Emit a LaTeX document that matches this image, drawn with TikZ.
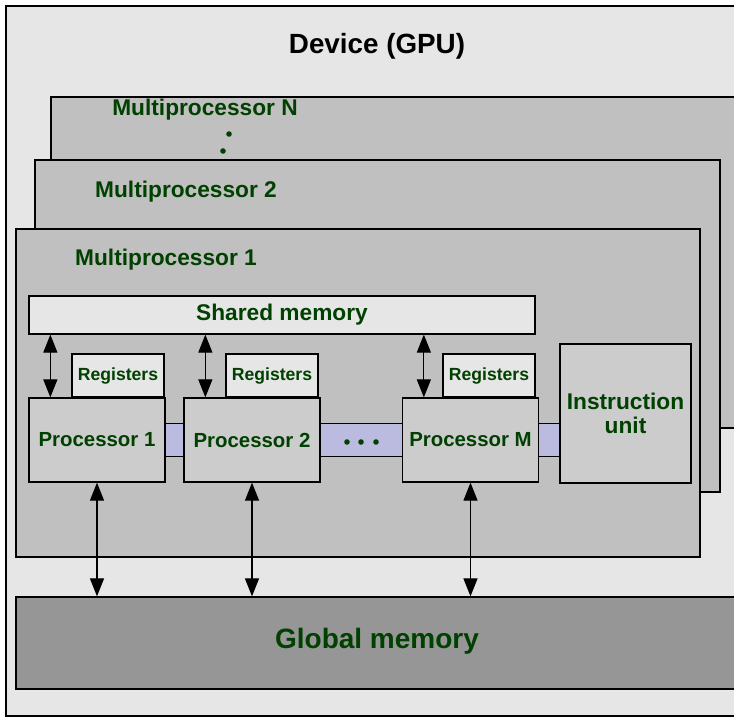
\documentclass[tikz,border=0pt]{standalone}
\usepackage{fontspec}
\setmainfont{Liberation Sans}
\usetikzlibrary{arrows.meta}
\definecolor{grn}{RGB}{0,64,0}
\definecolor{pale}{RGB}{230,230,230}
\definecolor{mpgray}{RGB}{192,192,192}
\definecolor{prgray}{RGB}{204,204,204}
\definecolor{glgray}{RGB}{150,150,150}
\definecolor{lav}{RGB}{187,187,224}

\begin{document}
\begin{tikzpicture}[x=1pt,y=-1pt,line width=1.3pt,
  lbl/.style={text=grn,font=\bfseries\fontsize{22.7}{26}\selectfont,align=center},
  procbox/.style={draw,fill=prgray,minimum width=136pt,minimum height=84pt,inner sep=0pt,
    text=grn,font=\bfseries\fontsize{20.4}{24}\selectfont},
  regbox/.style={draw,fill=pale,minimum width=92pt,minimum height=43pt,inner sep=0pt,
    text=grn,font=\bfseries\fontsize{17.6}{20}\selectfont},
  dbl/.style={{Triangle[length=18pt,width=14pt]}-{Triangle[length=18pt,width=14pt]},line width=1.2pt}]
  \useasboundingbox (0,0) rectangle (734,718);
  \clip (0,0) rectangle (734,718);
  % device frame
  \draw[fill=pale] (6,6) rectangle (760,716);
  \node[font=\bfseries\fontsize{27.8}{32}\selectfont] (dev) at (377,46) {Device (GPU)};
  % stacked multiprocessors
  \draw[fill=mpgray] (51,97) rectangle (760,428);
  \node[lbl] (mpn) at (205,110) {Multiprocessor N};
  \fill[grn] (229,134) circle (2.8) (223,151) circle (2.8);
  \draw[fill=mpgray] (35,160) rectangle (720,492);
  \node[lbl] (mp2) at (186,192) {Multiprocessor 2};
  \draw[fill=mpgray] (16,229) rectangle (700,557);
  \node[lbl] (mp1) at (166,260) {Multiprocessor 1};
  % interconnect bar
  \draw[fill=lav,line width=1pt] (160,423) rectangle (565,456);
  \fill[grn] (347,442) circle (2.8) (361,442) circle (2.8) (376,442) circle (2.8);
  % memories and units
  \node[draw,fill=pale,minimum width=506pt,minimum height=38pt,inner sep=0pt,lbl] (smem) at (282,315) {Shared memory};
  \node[regbox] (reg1) at (118,375.5) {Registers};
  \node[regbox] (reg2) at (272,375.5) {Registers};
  \node[regbox] (regm) at (489,375.5) {Registers};
  \node[procbox] (p1) at (97,440) {Processor 1};
  \node[procbox] (p2) at (252,440) {Processor 2};
  \node[procbox] (pm) at (470.5,440) {Processor M};
  \node[draw,fill=prgray,minimum width=131pt,minimum height=139pt,inner sep=0pt,lbl] (iu) at (625.5,413.5) {Instruction\\[-2pt]unit};
  \node[draw,fill=glgray,minimum width=744pt,minimum height=92pt,inner sep=0pt] (gmem) at (388,643) {};
  \node[text=grn,font=\bfseries\fontsize{28}{32}\selectfont] (gtxt) at (377,641) {Global memory};
  % connections
  \foreach \p in {p1,p2,pm}{
    \draw[dbl] ([xshift=22pt]\p.north west) -- ([xshift=22pt]\p.north west |- smem.south);
    \draw[dbl] (\p.south) -- (\p.south |- gmem.north);
  }
\end{tikzpicture}
\end{document}
